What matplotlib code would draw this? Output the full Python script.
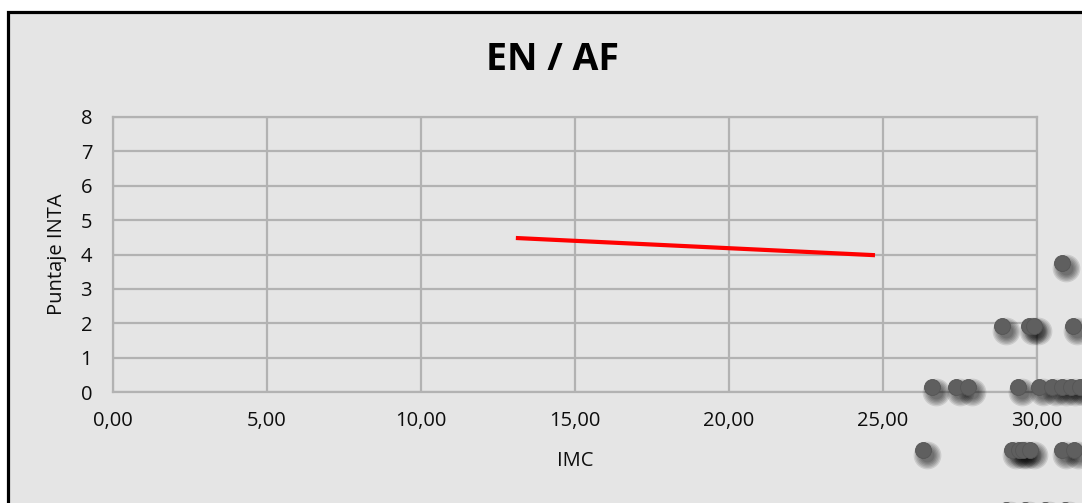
import matplotlib
matplotlib.use('Agg')
import matplotlib.pyplot as plt
import matplotlib.transforms as mtransforms
from matplotlib.patches import Rectangle

# IMC vs Puntaje INTA
imc = [30.81,
       28.86, 29.74, 29.90, 31.17,
       26.60, 27.37, 27.76, 29.38, 30.07, 30.50, 30.80, 31.10, 31.40,
       26.30, 29.20, 29.40, 29.55, 29.77, 30.80, 31.20,
       29.00, 29.60, 30.26, 30.90]
inta = [3.75,
        1.92, 1.92, 1.92, 1.92,
        0.15, 0.15, 0.15, 0.15, 0.15, 0.15, 0.15, 0.15, 0.15,
        -1.69, -1.69, -1.69, -1.69, -1.69, -1.69, -1.69,
        -3.43, -3.43, -3.43, -3.43]

# linear trend line endpoints
trend_x = [13.08, 24.74]
trend_y = [4.48, 3.98]

x_ticks = [0, 5, 10, 15, 20, 25, 30]
y_ticks = [0, 1, 2, 3, 4, 5, 6, 7, 8]

bg = '#e5e5e5'
grid_col = '#b2b2b2'
txt_col = '#0d0d0d'
font = ['Open Sans', 'DejaVu Sans']

fig = plt.figure(figsize=(10.82, 5.03), dpi=100)
fig.patch.set_facecolor('white')

# chart area with black frame (extends past the right/bottom edge)
frame = Rectangle((8 / 1082, -0.2), 1.2, (1 - 11.5 / 503) + 0.2,
                  transform=fig.transFigure, facecolor=bg,
                  edgecolor='black', linewidth=2.3, zorder=-5)
fig.patches.append(frame)

ax = fig.add_axes([113 / 1082, 1 - 392 / 503, (1037 - 113) / 1082, (392 - 117) / 503])
ax.set_facecolor(bg)
ax.set_xlim(0, 30)
ax.set_ylim(0, 8)
ax.set_xticks(x_ticks)
ax.set_yticks(y_ticks)
ax.set_xticklabels([f'{v:.2f}'.replace('.', ',') for v in x_ticks],
                   fontsize=14.5, family=font, color=txt_col)
ax.set_yticklabels([str(v) for v in y_ticks], fontsize=14.5, family=font,
                   color=txt_col)
ax.tick_params(length=0)
ax.tick_params(axis='y', pad=15)
ax.tick_params(axis='x', pad=14)
ax.grid(True, color=grid_col, linewidth=1.6)
ax.set_axisbelow(True)
for s in ax.spines.values():
    s.set_color(grid_col)
    s.set_linewidth(1.6)

fig.text(575 / 1082, 1 - 461 / 503, 'IMC', fontsize=14.5, family=font,
         color=txt_col, ha='center', va='center')
fig.text(57 / 1082, 1 - 254 / 503, 'Puntaje INTA', fontsize=14.5, family=font,
         color=txt_col, ha='center', va='center', rotation=90)
fig.text(552 / 1082, 1 - 60 / 503, 'EN / AF', fontsize=27, fontweight='bold',
         family=font, ha='center', va='center')

# soft drop shadow under the markers
shadow_tr = mtransforms.offset_copy(ax.transData, fig=fig, x=4, y=-5, units='dots')
for grow in [10, 8, 6, 4, 2, 0]:
    ax.scatter(imc, inta, s=(10 + grow) ** 2, color='black', alpha=0.11,
               linewidths=0, transform=shadow_tr, clip_on=False, zorder=3)
ax.scatter(imc, inta, s=11.5 ** 2, color='#5f5f5f', edgecolors='#555555',
           linewidths=0.6, clip_on=False, zorder=4)

ax.plot(trend_x, trend_y, color='#ff0000', linewidth=3.0,
        solid_capstyle='butt', zorder=5)

fig.savefig('out.png', dpi=100, facecolor='white')
